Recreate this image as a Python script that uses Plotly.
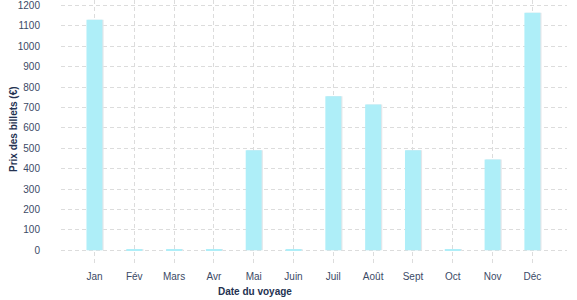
import plotly.graph_objects as go

months = ["Jan", "Fév", "Mars", "Avr", "Mai", "Juin", "Juil", "Août", "Sept", "Oct", "Nov", "Déc"]
prices = [1130, 5, 5, 5, 490, 5, 755, 715, 490, 5, 445, 1165]
y_ticks = [0, 100, 200, 300, 400, 500, 600, 700, 800, 900, 1000, 1100, 1200]

x_idx = list(range(len(months)))
tick_color = "#3b4a66"
title_color = "#243251"
grid_color = "#dcdcdc"

fig = go.Figure()
# soft shadow
fig.add_trace(go.Bar(
    x=x_idx, y=prices, width=0.4, offset=-0.17,
    marker=dict(color="#e2e6ea", line=dict(width=0)),
    hoverinfo="skip", showlegend=False,
))
fig.add_trace(go.Bar(
    x=x_idx, y=prices, width=0.4, offset=-0.2,
    marker=dict(color="#aeeef8", line=dict(width=0)),
    showlegend=False,
))

plot_l, plot_r, plot_t, plot_b = 61, 10, 0, 35
plot_w = 577 - plot_l - plot_r
plot_h = 300 - plot_t - plot_b

fig.update_layout(
    width=577, height=300,
    margin=dict(l=plot_l, r=plot_r, t=plot_t, b=plot_b, autoexpand=False),
    paper_bgcolor="white", plot_bgcolor="white",
    barmode="overlay",
    font=dict(family="Liberation Sans, Arial, sans-serif", size=10, color=tick_color),
    xaxis=dict(
        tickmode="array", tickvals=x_idx, ticktext=months,
        range=[-0.84, 11.87], automargin=False,
        showgrid=True, gridcolor=grid_color, griddash="4px,3px", gridwidth=1,
        zeroline=False, showline=False, ticks="",
        ticklabelstandoff=4,
        tickfont=dict(size=10, color=tick_color),
    ),
    yaxis=dict(
        tickmode="array", tickvals=y_ticks,
        range=[-72, 1227], automargin=False,
        showgrid=True, gridcolor=grid_color, griddash="4px,3px", gridwidth=1,
        zeroline=False, showline=False, ticks="",
        ticklabelstandoff=20, ticklabeloverflow="allow",
        tickfont=dict(size=10, color=tick_color),
    ),
    annotations=[
        dict(
            text="<b>Date du voyage</b>",
            x=(255 - plot_l) / plot_w, y=-(291 - plot_h) / plot_h,
            xref="paper", yref="paper", xanchor="center", yanchor="middle",
            showarrow=False, font=dict(size=10, color=title_color),
        ),
        dict(
            text="<b>Prix des billets (€)</b>",
            x=-(plot_l - 13) / plot_w, y=(plot_h - 129) / plot_h,
            xref="paper", yref="paper", xanchor="center", yanchor="middle",
            textangle=-90, showarrow=False, font=dict(size=10, color=title_color),
        ),
    ],
)

fig.write_html("out.html")
